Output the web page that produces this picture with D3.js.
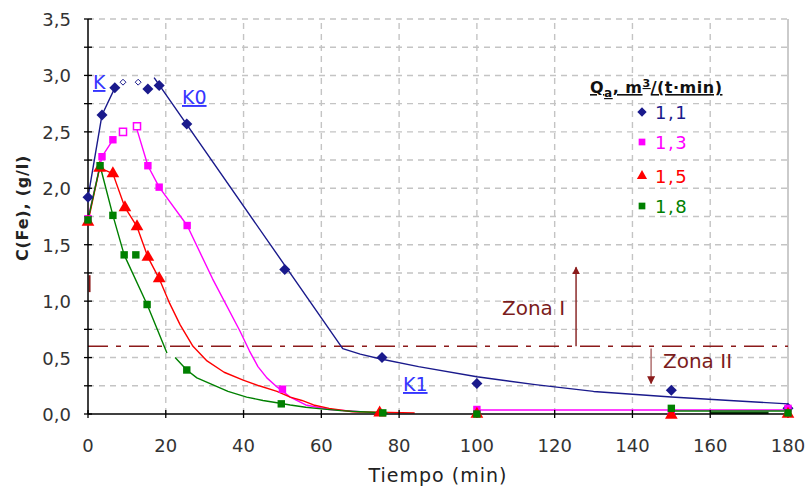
<!DOCTYPE html>
<html>
<head>
<meta charset="utf-8">
<script src="https://cdn.jsdelivr.net/npm/d3@7"></script>
<style>
  body { margin: 0; background: #fff; }
  text { font-family: "DejaVu Sans", Verdana, sans-serif; }
</style>
</head>
<body>
<div id="chart"></div>
<script>
// legend / series
var seriesNames = ["1,1", "1,3", "1,5", "1,8"];
var seriesColors = ["#1a1a8c", "#ff00ff", "#ff0000", "#008000"];

// measured points [time, C(Fe)]
var pts11 = [[0,1.92],[3.6,2.65],[6.9,2.89],[15.4,2.88],[18.3,2.91],[25.4,2.57],[50.6,1.28],[75.6,0.50],[100,0.27],[150,0.21],[180,0.05]];
var pts13 = [[0,1.73],[3.6,2.28],[6.4,2.43],[15.4,2.2],[18.3,2.01],[25.5,1.67],[50,0.22],[100,0.04],[150,0.0],[180,0.05]];
var pts15 = [[0,1.70],[3,2.18],[6.4,2.13],[9.5,1.83],[12.6,1.66],[15.4,1.39],[18.3,1.2],[75,0.01],[100,0.0],[150,-0.01],[180,0.0]];
var pts18 = [[0,1.72],[3.1,2.2],[6.4,1.76],[9.3,1.41],[12.3,1.41],[15.2,0.97],[25.4,0.39],[49.7,0.09],[75.8,0.01],[100,0.0],[150,0.05],[180,0.01]];
// hollow (excluded) points
var hollow11 = [[9,2.94],[12.9,2.94]];
var hollow13 = [[9,2.5],[12.6,2.55]];

// fitted lines, split into segments
var line11 = [
  [[0,1.92],[3.6,2.65],[6.9,2.89]],
  [[17,2.98],[65.5,0.58],[70,0.53],[75,0.49],[85,0.42],[100,0.33],[115,0.26],[130,0.2],[150,0.15],[165,0.12],[180,0.09]]
];
var line13 = [
  [[0,1.73],[3.6,2.28],[6.4,2.43]],
  [[12.6,2.52],[15.4,2.2],[18.3,2.01],[25.5,1.67],[32,1.2],[39,0.74],[41.5,0.56],[43.7,0.42],[46,0.32],[48.6,0.24],[52,0.15],[56,0.08],[62,0.04],[70,0.02]],
  [[100,0.035],[180,0.035]]
];
var line15 = [
  [[0,1.70],[3,2.18],[6.4,2.13],[9.5,1.83],[12.6,1.66],[15.4,1.39],[18.3,1.2],[21,0.98],[23.7,0.79],[27,0.6],[30.6,0.47],[35,0.37],[39.9,0.3],[44,0.25],[48.6,0.2],[52,0.15],[55,0.12],[58,0.08],[62,0.05],[68,0.02],[84,0.01]]
];
var line18 = [
  [[0,1.72],[3.1,2.2],[6.4,1.76],[9.3,1.41],[15.2,0.97],[20.3,0.54]],
  [[22.4,0.5],[25.4,0.39],[28,0.32],[32,0.26],[36,0.2],[40.8,0.15],[45,0.12],[48.6,0.1],[52,0.08],[56,0.06],[60,0.045],[65,0.03],[70,0.02],[77,0.01]],
  [[150,0.027],[180,0.027]],
  [[160,0.01],[175,0.01]]
];

var xTicks = [0,20,40,60,80,100,120,140,160,180];
var yTicks = [0,0.5,1,1.5,2,2.5,3,3.5];
var zoneLevel = 0.6;

var W = 806, H = 488;
var x = d3.scaleLinear().domain([0,180]).range([88,788]);
var y = d3.scaleLinear().domain([0,3.5]).range([414,19]);

var svg = d3.select("#chart").append("svg").attr("width", W).attr("height", H);

// grid
var grid = svg.append("g").attr("stroke", "#c4c4c4").attr("stroke-width", 1.4).attr("stroke-dasharray", "6,5");
d3.range(0.25, 3.51, 0.25).forEach(function(v) {
  grid.append("line").attr("x1", x(0)).attr("x2", x(180)).attr("y1", y(v)).attr("y2", y(v));
});
xTicks.slice(1, -1).forEach(function(v) {
  grid.append("line").attr("x1", x(v)).attr("x2", x(v)).attr("y1", y(0)).attr("y2", y(3.5));
});
svg.append("line").attr("x1", x(180)).attr("x2", x(180)).attr("y1", y(0)).attr("y2", y(3.5))
  .attr("stroke", "#a8a8a8").attr("stroke-width", 1.2);

// zone line
svg.append("line").attr("x1", x(0)).attr("x2", x(180)).attr("y1", y(zoneLevel)).attr("y2", y(zoneLevel))
  .attr("stroke", "#8b1a1a").attr("stroke-width", 1.6).attr("stroke-dasharray", "20,8,5,8");
svg.append("line").attr("x1", x(0.4)).attr("x2", x(0.4)).attr("y1", y(1.08)).attr("y2", y(1.23))
  .attr("stroke", "#8b1a1a").attr("stroke-width", 2);

// arrows
var defs = svg.append("defs");
defs.append("marker").attr("id", "ah").attr("viewBox", "0 0 10 10").attr("refX", 9).attr("refY", 5)
  .attr("markerWidth", 8).attr("markerHeight", 8).attr("markerUnits", "userSpaceOnUse").attr("orient", "auto")
  .append("path").attr("d", "M0,0L10,5L0,10Z").attr("fill", "#8b1a1a");
svg.append("line").attr("x1", x(125.5)).attr("x2", x(125.5)).attr("y1", y(0.6)).attr("y2", y(1.3))
  .attr("stroke", "#8b2a2a").attr("stroke-width", 1.5).attr("marker-end", "url(#ah)");
svg.append("line").attr("x1", x(144.8)).attr("x2", x(144.8)).attr("y1", y(0.58)).attr("y2", y(0.27))
  .attr("stroke", "#b07070").attr("stroke-width", 1.5).attr("marker-end", "url(#ah)");

svg.append("text").attr("x", 502).attr("y", 315).attr("font-size", 20).attr("fill", "#7b1c1c").text("Zona I");
svg.append("text").attr("x", 663).attr("y", 368).attr("font-size", 20).attr("fill", "#7b1c1c").text("Zona II");

// lines
var lineGen = d3.line()
  .x(function(d) { return x(d[0]); }).y(function(d) { return y(d[1]); });
[line11, line13, line15, line18].forEach(function(segs, i) {
  segs.forEach(function(seg, j) {
    var c = seriesColors[i];
    if (i == 3 && j == 3) c = "#0b3d0b";
    svg.append("path").attr("d", lineGen(seg)).attr("fill", "none")
      .attr("stroke", c).attr("stroke-width", (i == 3 && j == 3) ? 2.2 : 1.4)
      .attr("stroke-linejoin", "round");
  });
});

// axes
var yAxis = svg.append("g");
yAxis.append("line").attr("x1", x(0)).attr("x2", x(0)).attr("y1", y(0)).attr("y2", y(3.5)).attr("stroke", "#000").attr("stroke-width", 1.5);
d3.range(0, 3.51, 0.25).forEach(function(v) {
  yAxis.append("line").attr("x1", x(0) - 4).attr("x2", x(0) + 4).attr("y1", y(v)).attr("y2", y(v)).attr("stroke", "#000").attr("stroke-width", 1.3);
});
yTicks.forEach(function(v) {
  yAxis.append("text").attr("x", 71).attr("y", y(v) + 7).attr("text-anchor", "end")
    .attr("font-size", 18).attr("fill", "#333").text(d3.format(".1f")(v).replace(".", ","));
});
var xAxis = svg.append("g");
xAxis.append("line").attr("x1", x(0)).attr("x2", x(180)).attr("y1", y(0)).attr("y2", y(0)).attr("stroke", "#000").attr("stroke-width", 1.5);
xTicks.forEach(function(v) {
  xAxis.append("line").attr("x1", x(v)).attr("x2", x(v)).attr("y1", y(0) - 4).attr("y2", y(0) + 4).attr("stroke", "#000").attr("stroke-width", 1.3);
  xAxis.append("text").attr("x", x(v)).attr("y", 452).attr("text-anchor", "middle")
    .attr("font-size", 18).attr("fill", "#333").text(v);
});

svg.append("text").attr("transform", "translate(28,208) rotate(-90)").attr("text-anchor", "middle")
  .attr("font-size", 16).attr("font-weight", "bold").attr("letter-spacing", 0.8).attr("fill", "#222").text("C(Fe), (g/l)");
svg.append("text").attr("x", 438).attr("y", 482).attr("text-anchor", "middle")
  .attr("font-size", 19).attr("letter-spacing", 1).attr("fill", "#222").text("Tiempo (min)");

// markers
function diamond(r) { return "M0," + (-r) + "L" + r + ",0L0," + r + "L" + (-r) + ",0Z"; }
function sym(i, s) {
  if (i == 0) return diamond(Math.sqrt(s) * 0.66);
  return d3.symbol().type(i == 2 ? d3.symbolTriangle : d3.symbolSquare).size(s)();
}
var symSizes = [70, 55, 70, 55];
[pts11, pts13, pts15, pts18].forEach(function(pts, i) {
  svg.append("g").selectAll("path").data(pts).enter().append("path")
    .attr("d", sym(i, symSizes[i]))
    .attr("transform", function(d) { return "translate(" + x(d[0]) + "," + y(d[1]) + ")"; })
    .attr("fill", seriesColors[i]);
});
svg.append("g").selectAll("path").data(hollow11).enter().append("path")
  .attr("d", sym(0, 20))
  .attr("transform", function(d) { return "translate(" + x(d[0]) + "," + y(d[1]) + ")"; })
  .attr("fill", "#fff").attr("stroke", seriesColors[0]).attr("stroke-width", 1);
svg.append("g").selectAll("path").data(hollow13).enter().append("path")
  .attr("d", sym(1, 50))
  .attr("transform", function(d) { return "translate(" + x(d[0]) + "," + y(d[1]) + ")"; })
  .attr("fill", "#fff").attr("stroke", seriesColors[1]).attr("stroke-width", 1.5);

// K labels
var kLabels = [{t: "K", x: 93, y: 89}, {t: "K0", x: 182, y: 104}, {t: "K1", x: 403, y: 391}];
kLabels.forEach(function(k) {
  svg.append("text").attr("x", k.x).attr("y", k.y).attr("font-size", 19)
    .attr("fill", "#3535ff").attr("text-decoration", "underline").text(k.t);
});

// legend
var lt = svg.append("text").attr("x", 590).attr("y", 93).attr("font-size", 16)
  .attr("font-weight", "bold").attr("letter-spacing", 0.5).attr("fill", "#111").attr("text-decoration", "underline");
lt.append("tspan").text("Q");
lt.append("tspan").attr("font-size", 12).attr("dy", 4).text("a");
lt.append("tspan").attr("dy", -4).text(", m");
lt.append("tspan").attr("font-size", 11).attr("dy", -6).text("3");
lt.append("tspan").attr("dy", 6).text("/(t\u00b7min)");
var legY = [112, 142, 176, 206];
seriesNames.forEach(function(n, i) {
  svg.append("path").attr("d", sym(i, i == 0 ? 50 : 45))
    .attr("transform", "translate(642," + legY[i] + ")").attr("fill", seriesColors[i]);
  svg.append("text").attr("x", 655).attr("y", legY[i] + 7).attr("font-size", 18).attr("letter-spacing", 1.5)
    .attr("fill", seriesColors[i]).text(n);
});
</script>
</body>
</html>
